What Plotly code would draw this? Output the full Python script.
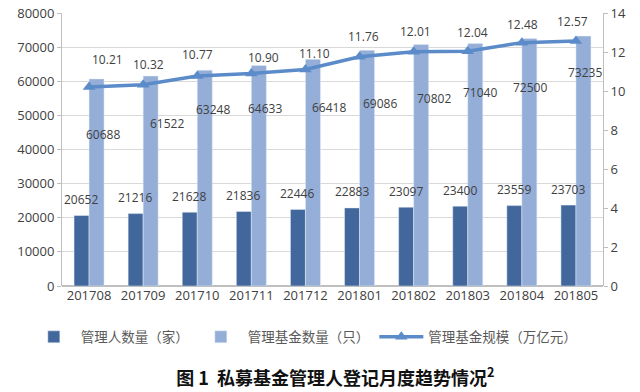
import plotly.graph_objects as go

months = ["201708", "201709", "201710", "201711", "201712",
          "201801", "201802", "201803", "201804", "201805"]
managers = [20652, 21216, 21628, 21836, 22446, 22883, 23097, 23400, 23559, 23703]
funds = [60688, 61522, 63248, 64633, 66418, 69086, 70802, 71040, 72500, 73235]
scale = [10.21, 10.32, 10.77, 10.90, 11.10, 11.76, 12.01, 12.04, 12.48, 12.57]

names = ["管理人数量（家）", "管理基金数量（只）", "管理基金规模（万亿元）"]
title = "图 1  私募基金管理人登记月度趋势情况<sup>2</sup>"

# label offsets (pixels) – styling only
fund_dx = [14, 24, 16, 14, 24, 20, 20, 12, 8, 9]
fund_dy = [-56, -47, -39, -43, -48, -53, -54, -49, -49, -36]
scale_dx = [18, 5, 0, 12, 9, 4, 2, 5, 1, -3]
scale_dy = [27, 20, 21, 16, 16, 20, 20, 19, 18, 19]

C_DARK = "#42679c"
C_LIGHT = "#94aed8"
C_LINE = "#5b8bc8"
TXT = "#404040"
NUM_FONT = "Open Sans, Noto Sans CJK SC"

fig = go.Figure()
fig.add_trace(go.Bar(x=months, y=managers, name=names[0], marker_color=C_DARK,
                     hoverinfo="skip"))
fig.add_trace(go.Bar(x=months, y=funds, name=names[1], marker_color=C_LIGHT,
                     hoverinfo="skip"))
fig.add_trace(go.Scatter(x=months, y=scale, name=names[2], yaxis="y2",
                         mode="lines+markers",
                         line=dict(color=C_LINE, width=3.5),
                         marker=dict(symbol="triangle-up", size=11, color=C_LINE),
                         hoverinfo="skip"))

ann = []
for i, m in enumerate(months):
    ann.append(dict(x=i, y=managers[i], xref="x", yref="y", text=str(managers[i]),
                    showarrow=False, xshift=-8, yshift=16, yanchor="middle",
                    font=dict(size=12, color=TXT, family=NUM_FONT)))
    ann.append(dict(x=i, y=funds[i], xref="x", yref="y", text=str(funds[i]),
                    showarrow=False, xshift=fund_dx[i], yshift=fund_dy[i],
                    yanchor="middle",
                    font=dict(size=12, color=TXT, family=NUM_FONT)))
    ann.append(dict(x=i, y=scale[i], xref="x", yref="y2", text=f"{scale[i]:.2f}",
                    showarrow=False, xshift=scale_dx[i], yshift=scale_dy[i],
                    yanchor="middle",
                    font=dict(size=12, color=TXT, family=NUM_FONT)))

fig.update_layout(
    width=640, height=392,
    margin=dict(l=62, r=37, t=13, b=106, autoexpand=False),
    paper_bgcolor="white", plot_bgcolor="white",
    barmode="group", bargap=0.445, bargroupgap=0,
    font=dict(family=NUM_FONT, size=13, color=TXT),
    xaxis=dict(type="category", range=[-0.5, len(months) - 0.5],
               showgrid=False, showline=False, ticks="",
               tickfont=dict(size=13, color=TXT)),
    yaxis=dict(range=[0, 80000], dtick=10000, tickformat="d",
               showgrid=True, gridcolor="#d9d9d9",
               gridwidth=1, showline=True, linecolor="#bfbfbf", ticks="outside",
               ticklen=4, tickcolor="#bfbfbf", zeroline=True, zerolinecolor="#bfbfbf",
               tickfont=dict(size=13, color=TXT)),
    yaxis2=dict(range=[0, 14], dtick=2, overlaying="y", side="right",
                showgrid=False, showline=True, linecolor="#bfbfbf",
                ticks="outside", ticklen=4, tickcolor="#bfbfbf", zeroline=False,
                tickfont=dict(size=13, color=TXT)),
    legend=dict(orientation="h", x=-0.065, xanchor="left",
                y=-0.187, yanchor="middle", itemwidth=44,
                font=dict(size=13.5, color="#595959", family="Noto Sans CJK SC"),
                traceorder="normal"),
    title=dict(text=title, x=0.524, xref="container", xanchor="center",
               y=0.035, yref="container", yanchor="middle",
               font=dict(size=18, color="#111111", family="Noto Sans CJK SC",
                         weight="bold")),
    annotations=ann,
)

fig.write_html("out.html", config={"displayModeBar": False},
               post_script="document.body.style.margin='0';document.body.style.overflow='hidden';")
